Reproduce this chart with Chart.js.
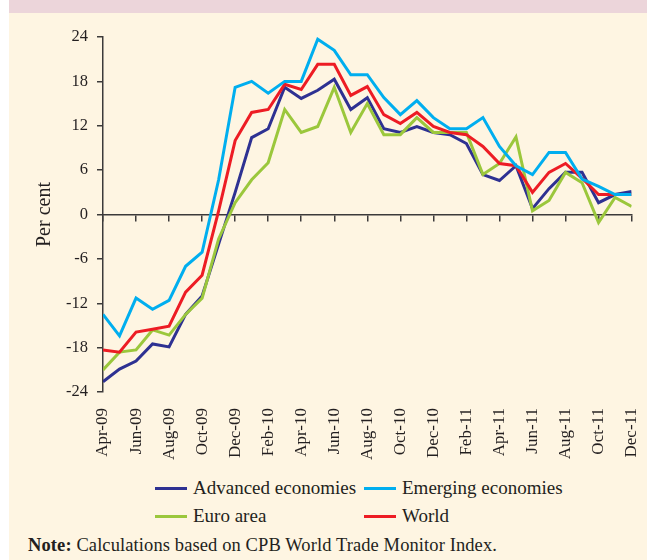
<!DOCTYPE html>
<html>
<head>
<meta charset="utf-8">
<script src="https://cdn.jsdelivr.net/npm/chart.js@4.4.1/dist/chart.umd.min.js"></script>
<style>
  html, body { margin: 0; padding: 0; background: #ffffff; }
  body { width: 647px; height: 560px; position: relative; overflow: hidden; font-family: "Liberation Serif", serif; color: #231f20; }
  #band { position: absolute; left: 9px; top: 0; width: 638px; height: 13px; background: #ecd5da; }
  #panel { position: absolute; left: 9px; top: 13px; width: 638px; height: 547px; background: #fef5e2; }
  #chart { position: absolute; left: 0; top: 0; }
  #legend { position: absolute; left: 155px; top: 477px; display: grid; grid-template-columns: 209px 240px; row-gap: 6px; font-size: 19px; }
  .item { display: flex; align-items: center; height: 22px; white-space: nowrap; }
  .swatch { width: 32px; height: 3px; margin-right: 6px; }
  #note { position: absolute; left: 28px; top: 535px; font-size: 18.5px; letter-spacing: 0.1px; white-space: nowrap; }
</style>
</head>
<body>
<div id="band"></div>
<div id="panel"></div>
<canvas id="chart" width="668" height="476"></canvas>
<div id="legend"></div>
<div id="note"><b>Note:</b> Calculations based on CPB World Trade Monitor Index.</div>
<script>
// Categories (monthly, Apr-09 to Dec-11)
const months = ["Apr-09","May-09","Jun-09","Jul-09","Aug-09","Sep-09","Oct-09","Nov-09","Dec-09",
  "Jan-10","Feb-10","Mar-10","Apr-10","May-10","Jun-10","Jul-10","Aug-10","Sep-10","Oct-10","Nov-10","Dec-10",
  "Jan-11","Feb-11","Mar-11","Apr-11","May-11","Jun-11","Jul-11","Aug-11","Sep-11","Oct-11","Nov-11","Dec-11"];

// Series values (per cent)
const advanced = [-22.6,-20.9,-19.8,-17.5,-17.9,-13.5,-11.0,-4.0,3.0,
  10.4,11.6,17.2,15.7,16.8,18.3,14.2,15.8,11.6,11.1,11.9,11.1,
  10.8,9.6,5.4,4.6,6.6,0.8,3.5,5.7,5.7,1.6,2.7,3.1];
const emerging = [-13.5,-16.4,-11.3,-12.8,-11.6,-7.0,-5.1,4.7,17.2,
  18.0,16.4,18.0,18.0,23.7,22.2,18.9,18.9,15.8,13.5,15.4,13.1,
  11.6,11.6,13.1,9.2,6.6,5.4,8.4,8.4,4.8,3.8,2.7,2.7];
const euroArea = [-21.0,-18.6,-18.3,-15.6,-16.3,-13.5,-11.3,-3.3,1.6,
  4.7,7.0,14.2,11.1,11.9,17.2,11.1,15.0,10.8,10.8,13.1,11.1,
  11.1,11.1,5.4,6.9,10.5,0.5,1.9,5.7,4.3,-1.1,2.3,1.1];
const world = [-18.3,-18.6,-15.9,-15.5,-15.1,-10.5,-8.2,0.5,10.0,
  13.8,14.2,17.6,16.9,20.3,20.3,16.1,17.3,13.5,12.3,13.8,11.9,
  11.1,10.8,9.2,6.9,6.6,3.0,5.7,6.9,4.9,2.7,2.7,2.7];

const seriesNames = ["Advanced economies","Emerging economies","Euro area","World"];
const yTicks = [-24,-18,-12,-6,0,6,12,18,24];

const colors = ["#2e3192","#00aeef","#9bc73c","#ed1c24"];
const seriesValues = [advanced, emerging, euroArea, world];
const drawOrder = [3, 0, 2, 1];

const toPoints = arr => arr.map((v, i) => ({ x: i, y: v }));

const axisColor = "#3c3a3a";
const tickFont = { family: "Liberation Serif", size: 17 };

const chart = new Chart(document.getElementById("chart"), {
  type: "line",
  data: {
    datasets: seriesNames.map((name, k) => ({
      label: name,
      data: toPoints(seriesValues[k]),
      borderColor: colors[k],
      backgroundColor: colors[k],
      borderWidth: 3,
      pointRadius: 0,
      tension: 0,
      fill: false,
      order: drawOrder[k]
    }))
  },
  options: {
    responsive: false,
    devicePixelRatio: 1,
    animation: false,
    layout: { padding: { left: 13, right: 16.5, top: 37, bottom: 0 } },
    plugins: { legend: { display: false }, tooltip: { enabled: false } },
    scales: {
      x: {
        type: "linear",
        position: "bottom",
        min: 0, max: months.length - 1,
        border: { display: false },
        grid: { display: false, drawTicks: false },
        ticks: {
          stepSize: 2, autoSkip: false, maxRotation: 90, minRotation: 90,
          padding: 16, color: "#231f20", font: tickFont,
          callback: v => months[v]
        }
      },
      x2: {
        type: "linear",
        position: { y: 0 },
        min: 0, max: months.length - 1,
        border: { display: true, color: axisColor, width: 1.5 },
        grid: { drawOnChartArea: false, drawTicks: true, tickLength: 6, color: axisColor, lineWidth: 1.5 },
        ticks: { stepSize: 2, display: false }
      },
      y: {
        min: yTicks[0], max: yTicks[yTicks.length - 1],
        border: { display: true, color: axisColor, width: 1.5 },
        grid: { drawOnChartArea: false, drawTicks: true, tickLength: 6, color: axisColor, lineWidth: 1.5 },
        afterBuildTicks: s => { s.ticks = yTicks.map(v => ({ value: v })); },
        ticks: { padding: 9, color: "#231f20", font: { family: "Liberation Serif", size: 16.5 } },
        title: { display: true, text: "Per cent", color: "#231f20", font: { family: "Liberation Serif", size: 20 }, padding: { top: 20, bottom: 0 } }
      }
    }
  }
});

// HTML legend built from the chart's datasets (2 x 2 grid)
const legend = document.getElementById("legend");
chart.data.datasets.forEach(ds => {
  const item = document.createElement("div");
  item.className = "item";
  const sw = document.createElement("span");
  sw.className = "swatch";
  sw.style.background = ds.borderColor;
  const tx = document.createElement("span");
  tx.textContent = ds.label;
  item.appendChild(sw);
  item.appendChild(tx);
  legend.appendChild(item);
});
</script>
</body>
</html>
